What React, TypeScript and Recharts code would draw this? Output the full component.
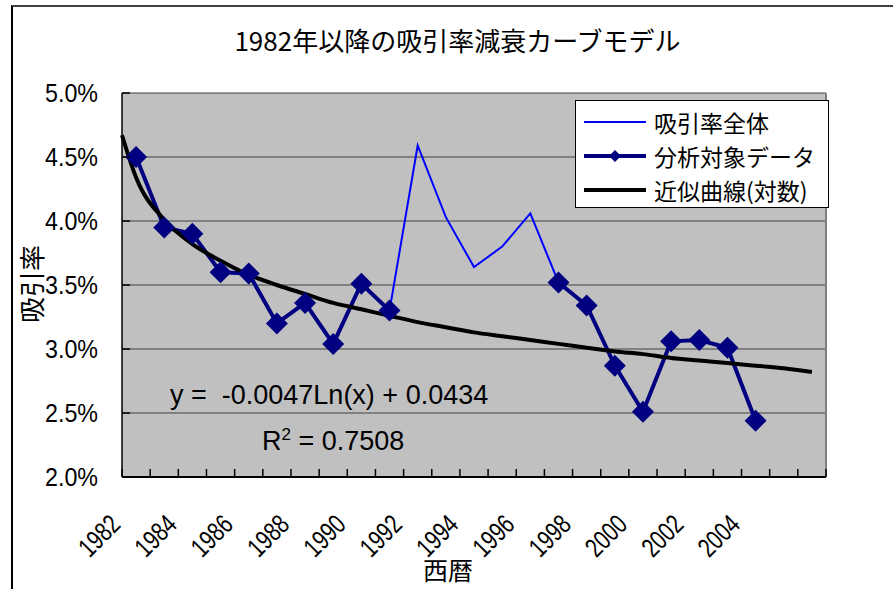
import { LineChart, Line, XAxis, YAxis, CartesianGrid, Legend, ReferenceLine } from "recharts";

// categories (one per year, drawn between tick marks)
const years = [
  1982, 1983, 1984, 1985, 1986, 1987, 1988, 1989, 1990, 1991, 1992, 1993, 1994,
  1995, 1996, 1997, 1998, 1999, 2000, 2001, 2002, 2003, 2004, 2005, 2006,
];
const labelYears = [1982, 1984, 1986, 1988, 1990, 1992, 1994, 1996, 1998, 2000, 2002, 2004];

// 吸引率全体 (%)
const overallRate = [
  4.5, 3.95, 3.9, 3.6, 3.59, 3.2, 3.36, 3.04, 3.51, 3.3, 4.59, 4.03, 3.64,
  3.8, 4.06, 3.52, 3.34, 2.87, 2.51, 3.06, 3.07, 3.01, 2.44, null, null,
];
// 分析対象データ (%), 1992-1996 excluded
const targetRate = [
  4.5, 3.95, 3.9, 3.6, 3.59, 3.2, 3.36, 3.04, 3.51, 3.3, null, null, null,
  null, null, 3.52, 3.34, 2.87, 2.51, 3.06, 3.07, 3.01, 2.44, null, null,
];
// 近似曲線(対数); position 1 = 1982
const trendIndex = [0.5, 1, 2, 3, 4, 5, 6, 7, 8, 9, 10, 11, 12, 13, 14, 15, 16, 17, 18, 19, 20, 21, 22, 23, 24, 25];
const trendRate = [
  4.67, 4.34, 4.01, 3.82, 3.69, 3.58, 3.5, 3.43, 3.36, 3.31, 3.26, 3.21, 3.17,
  3.13, 3.1, 3.07, 3.04, 3.01, 2.98, 2.96, 2.93, 2.91, 2.89, 2.87, 2.85, 2.82,
];
const yTicks = [2.0, 2.5, 3.0, 3.5, 4.0, 4.5, 5.0];

const rows = trendIndex.map((x, i) => {
  const j = Number.isInteger(x) ? x - 1 : -1;
  return {
    x,
    overall: j >= 0 ? overallRate[j] : null,
    target: j >= 0 ? targetRate[j] : null,
    trend: trendRate[i],
  };
});

// tick marks sit on category boundaries
const boundaries = [...years.map((_, i) => i + 0.5), years.length + 0.5];

const LATIN = "'Liberation Sans', Arial, sans-serif";
const CJK = "'Noto Sans CJK JP', sans-serif";

function XTick(props: any) {
  const { x, y, payload } = props;
  const year = years[payload.value - 0.5];
  const show = labelYears.includes(year);
  const ly = y + 49;
  return (
    <g>
      <line x1={x} y1={y} x2={x} y2={y - 8} stroke="#000" strokeWidth={1.5} />
      {show && (
        <text
          x={x}
          y={ly}
          textAnchor="end"
          transform={`rotate(-45 ${x} ${ly})`}
          fontSize={27}
          textLength={46}
          lengthAdjust="spacingAndGlyphs"
          fontFamily={LATIN}
          fill="#000"
        >
          {String(year)}
        </text>
      )}
    </g>
  );
}

function YTick(props: any) {
  const { x, y, payload } = props;
  return (
    <g>
      <line x1={x} y1={y} x2={x + 8} y2={y} stroke="#000" strokeWidth={1.5} />
      <text
        x={x - 24}
        y={y + 9}
        textAnchor="end"
        fontSize={25}
        textLength={53}
        lengthAdjust="spacingAndGlyphs"
        fontFamily={LATIN}
        fill="#000"
      >
        {`${payload.value.toFixed(1)}%`}
      </text>
    </g>
  );
}

function Diamond(props: any) {
  const { cx, cy, value, index } = props;
  if (value == null || cx == null || cy == null) return <g key={index} />;
  const r = 11;
  return (
    <polygon
      key={index}
      points={`${cx},${cy - r} ${cx + r},${cy} ${cx},${cy + r} ${cx - r},${cy}`}
      fill="#000080"
    />
  );
}

function LegendBox() {
  const items = [
    { name: "吸引率全体", color: "#0000ff", width: 2, marker: false },
    { name: "分析対象データ", color: "#000080", width: 4, marker: true },
    { name: "近似曲線(対数)", color: "#000", width: 4, marker: false },
  ];
  return (
    <div
      style={{
        width: 254,
        height: 108,
        boxSizing: "border-box",
        border: "1px solid #000",
        background: "#fff",
        paddingTop: 4,
      }}
    >
      {items.map((it) => (
        <div key={it.name} style={{ display: "flex", alignItems: "center", height: 34 }}>
          <svg width={78} height={20} style={{ flex: "none" }}>
            <line x1={8} y1={10} x2={70} y2={10} stroke={it.color} strokeWidth={it.width} />
            {it.marker && <polygon points="39,4 45,10 39,16 33,10" fill={it.color} />}
          </svg>
          <span style={{ fontFamily: CJK, fontSize: 23, color: "#000", whiteSpace: "nowrap" }}>{it.name}</span>
        </div>
      ))}
    </div>
  );
}

export default function App() {
  return (
    <div style={{ position: "absolute", left: 0, top: 0, width: 893, height: 589, background: "#fff", overflow: "hidden" }}>
      <div
        style={{
          position: "absolute",
          left: 11,
          top: 5,
          right: 0,
          bottom: 0,
          borderTop: "2px solid #404040",
          borderLeft: "2px solid #000",
        }}
      />
      <div style={{ position: "absolute", left: 0, top: 0 }}>
        <LineChart width={893} height={589} data={rows} margin={{ top: 93, right: 67, bottom: 52, left: 62 }}>
          <CartesianGrid horizontal vertical={false} fill="#c0c0c0" stroke="#404040" strokeWidth={1} />
          <XAxis
            type="number"
            dataKey="x"
            domain={[0.5, 25.5]}
            ticks={boundaries}
            interval={0}
            height={60}
            tickSize={0}
            tickMargin={0}
            tickLine={false}
            axisLine={{ stroke: "#000", strokeWidth: 2 }}
            tick={<XTick />}
            label={{
              content: () => (
                <text x={448} y={580} textAnchor="middle" fontSize={25} fontFamily={CJK} fill="#000">
                  西暦
                </text>
              ),
            }}
          />
          <YAxis
            type="number"
            domain={[2, 5]}
            ticks={yTicks}
            interval={0}
            width={60}
            tickSize={0}
            tickMargin={0}
            tickLine={false}
            axisLine={{ stroke: "#000", strokeWidth: 1.5 }}
            tick={<YTick />}
            label={{
              content: () => (
                <text
                  x={30}
                  y={284}
                  textAnchor="middle"
                  dominantBaseline="central"
                  transform="rotate(-90 30 284)"
                  fontSize={26}
                  fontFamily={CJK}
                  fill="#000"
                >
                  吸引率
                </text>
              ),
            }}
          />
          <ReferenceLine x={25.5} stroke="#808080" strokeWidth={2} />
          <Line
            type="linear"
            dataKey="overall"
            name="吸引率全体"
            stroke="#0000ff"
            strokeWidth={2}
            dot={false}
            isAnimationActive={false}
          />
          <Line
            type="linear"
            dataKey="target"
            name="分析対象データ"
            stroke="#000080"
            strokeWidth={4}
            dot={<Diamond />}
            activeDot={false}
            isAnimationActive={false}
          />
          <Line
            type="monotone"
            dataKey="trend"
            name="近似曲線(対数)"
            stroke="#000"
            strokeWidth={4}
            dot={false}
            isAnimationActive={false}
          />
          <Legend
            layout="horizontal"
            verticalAlign="middle"
            align="center"
            content={() => <LegendBox />}
            wrapperStyle={{ position: "absolute", left: 575, top: 100, width: 254, height: 108 }}
          />
        </LineChart>
      </div>
      <div
        style={{
          position: "absolute",
          left: 0,
          width: 893,
          top: 22,
          textAlign: "center",
          fontFamily: CJK,
          fontSize: 26,
          lineHeight: "36px",
          paddingLeft: 22,
          boxSizing: "border-box",
          color: "#000",
        }}
      >
        1982年以降の吸引率減衰カーブモデル
      </div>
      <div
        style={{
          position: "absolute",
          left: 170,
          top: 378,
          fontFamily: LATIN,
          fontSize: 27,
          lineHeight: "34px",
          whiteSpace: "pre",
          color: "#000",
        }}
      >
        {"y =  -0.0047Ln(x) + 0.0434"}
      </div>
      <div
        style={{
          position: "absolute",
          left: 262,
          top: 418,
          fontFamily: LATIN,
          fontSize: 27,
          lineHeight: "34px",
          whiteSpace: "pre",
          color: "#000",
        }}
      >
        R<sup style={{ fontSize: 17, verticalAlign: "10px" }}>2</sup>
        {" = 0.7508"}
      </div>
    </div>
  );
}
